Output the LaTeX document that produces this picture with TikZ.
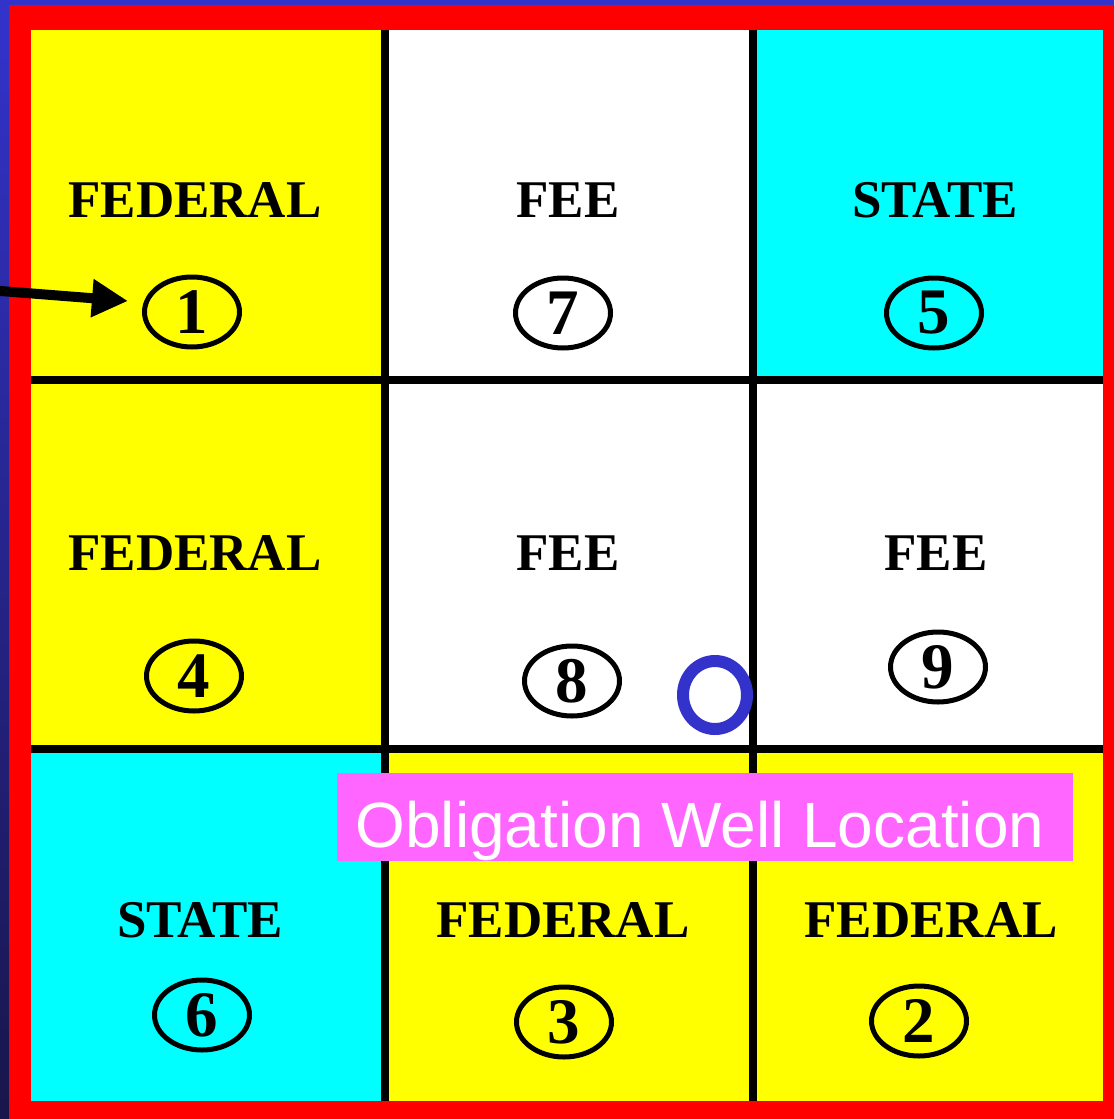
\documentclass[tikz,border=0pt]{standalone}
\usepackage{fontspec}
\setmainfont{Liberation Serif}
\newfontfamily\sansf{Liberation Sans}
\usetikzlibrary{shapes.geometric,arrows.meta}
\definecolor{bgtop}{RGB}{51,51,204}
\definecolor{bgbot}{RGB}{24,22,74}
\definecolor{fyellow}{RGB}{255,255,0}
\definecolor{fcyan}{RGB}{0,255,255}
\definecolor{fred}{RGB}{255,0,0}
\definecolor{fpink}{RGB}{255,102,255}
\definecolor{fblue}{RGB}{51,51,204}
\tikzset{
  lbl/.style={font=\bfseries\fontsize{53}{53}\selectfont, inner sep=0pt},
  num/.style={ellipse, draw=black, line width=5pt, minimum width=95pt, minimum height=70pt,
              inner sep=0pt, font=\bfseries\fontsize{65}{65}\selectfont},
  gridline/.style={line width=8pt, black},
}
\begin{document}
\begin{tikzpicture}[x=1pt,y=-1pt]
\useasboundingbox (0,0) rectangle (1114,1119);
\clip (0,0) rectangle (1114,1119);
% background
\shade[top color=bgtop, bottom color=bgbot] (0,0) rectangle (1114,1119);
% red frame
\fill[fred] (9,5) rectangle (1130,1130);
% cells
\fill[fyellow] (31,30) rectangle (385,380);
\fill[white] (385,30) rectangle (753,380);
\fill[fcyan] (753,30) rectangle (1103,380);
\fill[fyellow] (31,380) rectangle (385,749);
\fill[white] (385,380) rectangle (1103,749);
\fill[fcyan] (31,749) rectangle (385,1101);
\fill[fyellow] (385,749) rectangle (1103,1101);
% grid
\draw[gridline] (385,30) -- (385,1101);
\draw[gridline] (753,30) -- (753,1101);
\draw[gridline] (31,380) -- (1103,380);
\draw[gridline] (31,749) -- (1103,749);
% labels
\node[lbl] (l1) at (195,200) {FEDERAL};
\node[lbl] (l7) at (568,200) {FEE};
\node[lbl] (l5) at (935,200) {STATE};
\node[lbl] (l4) at (195,553) {FEDERAL};
\node[lbl] (l8) at (568,553) {FEE};
\node[lbl] (l9) at (936,553) {FEE};
\node[lbl] (l6) at (200,920) {STATE};
\node[lbl] (l3) at (563,920) {FEDERAL};
\node[lbl] (l2) at (931,920) {FEDERAL};
% numbers
\node[num] (e1) at (192,312) {1};
\node[num] (e7) at (563,313) {7};
\node[num] (e5) at (934,313) {5};
\node[num] (e4) at (194,676) {4};
\node[num] (e8) at (572,681) {8};
\node[num] (e9) at (938,667) {9};
\node[num] (e6) at (202,1015) {6};
\node[num] (e3) at (564,1022) {3};
\node[num] (e2) at (919,1021) {2};
% well location circle
\node[ellipse, draw=fblue, line width=12pt, minimum width=64pt, minimum height=68pt, inner sep=0pt] (well) at (715,695) {};
% obligation label
\node[fill=fpink, minimum width=736pt, minimum height=88pt, inner sep=0pt] (oblbox) at (705,817) {};
\node[anchor=base, text=white, inner sep=0pt, font=\sansf\fontsize{64}{64}\selectfont] (obltext) at (700,847) {Obligation Well Location};
% arrow
\coordinate (arrowstart) at (-6,290.5);
\coordinate (arrowtip) at (128,301);
\draw[line width=10pt, -{Triangle[length=36pt,width=36pt]}] (arrowstart) -- (arrowtip);
\end{tikzpicture}
\end{document}
